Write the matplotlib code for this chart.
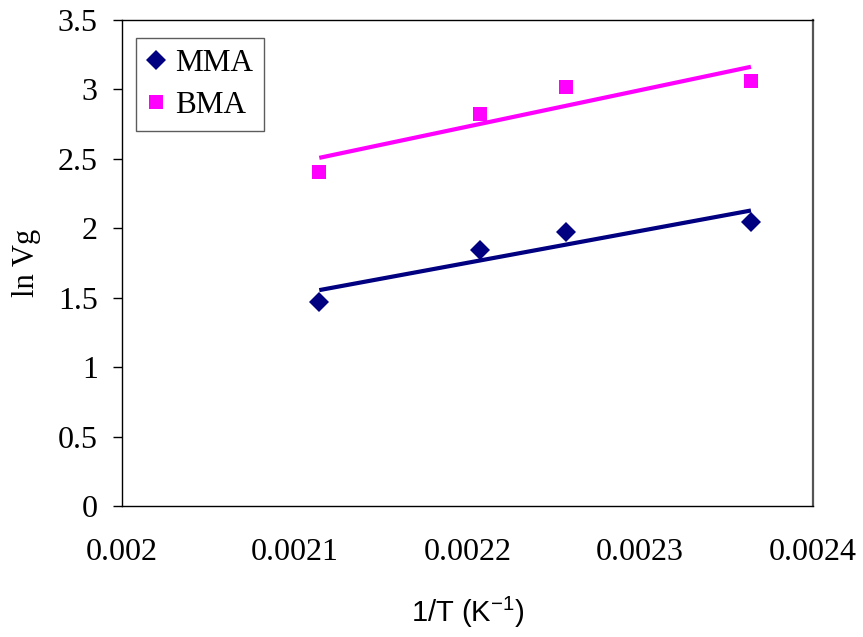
import numpy as np
import matplotlib
matplotlib.use("Agg")
import matplotlib.pyplot as plt

# Data
inv_T = [0.0021142, 0.0022075, 0.0022573, 0.0023641]
mma_lnVg = [1.47, 1.84, 1.976, 2.048]
bma_lnVg = [2.405, 2.825, 3.015, 3.06]
series_names = ["MMA", "BMA"]
x_ticks = [0.002, 0.0021, 0.0022, 0.0023, 0.0024]
x_tick_labels = ["0.002", "0.0021", "0.0022", "0.0023", "0.0024"]
y_ticks = [0, 0.5, 1, 1.5, 2, 2.5, 3, 3.5]
y_tick_labels = ["0", "0.5", "1", "1.5", "2", "2.5", "3", "3.5"]

NAVY = "#000080"
MAGENTA = "#FF00FF"
serif = ["Liberation Serif", "DejaVu Serif"]
narrow = ["Liberation Sans Narrow", "Liberation Sans", "DejaVu Sans"]

fig = plt.figure(figsize=(8.63, 6.37), dpi=100)
ax = fig.add_axes([0.1414, 0.2057, 0.9420 - 0.1414, 0.9686 - 0.2057])

x = np.array(inv_T)
for yv, col, mk, ms, name in [(mma_lnVg, NAVY, "D", 10, series_names[0]),
                              (bma_lnVg, MAGENTA, "s", 10.5, series_names[1])]:
    y = np.array(yv)
    p = np.polyfit(x, y, 1)
    ax.plot([x[0], x[-1]], np.polyval(p, [x[0], x[-1]]), color=col, lw=3,
            solid_capstyle="butt", zorder=2)
    ax.plot(x, y, linestyle="none", marker=mk, ms=ms, color=col,
            markeredgewidth=0, label=name, zorder=3)

ax.set_xlim(0.002, 0.0024)
ax.set_ylim(0, 3.5)
ax.set_xticks(x_ticks)
ax.set_xticklabels(x_tick_labels, fontfamily=serif, fontsize=23)
ax.set_yticks(y_ticks)
ax.set_yticklabels(y_tick_labels, fontfamily=serif, fontsize=23)
ax.tick_params(axis="x", length=0, pad=23)
ax.tick_params(axis="y", length=6.5, width=1, direction="out", pad=11)

for s in ["left", "bottom", "top"]:
    ax.spines[s].set_color("black")
    ax.spines[s].set_linewidth(1)
ax.spines["right"].set_color("#555555")
ax.spines["right"].set_linewidth(1.6)

ax.set_ylabel("ln Vg", fontfamily=serif, fontsize=22, labelpad=12)
ax.set_xlabel("1/T (K$^{\\mathregular{-1}}$)", fontfamily=narrow, fontsize=21,
              labelpad=20)

leg = ax.legend(loc="upper left", bbox_to_anchor=(0.02, 0.962),
                prop={"family": serif, "size": 22.5}, frameon=True, fancybox=False,
                edgecolor="#333333", handlelength=0.6, handletextpad=0.3,
                borderpad=0.35, labelspacing=0.4, borderaxespad=0)
leg.get_frame().set_linewidth(1)

fig.savefig("out.png", dpi=100)
